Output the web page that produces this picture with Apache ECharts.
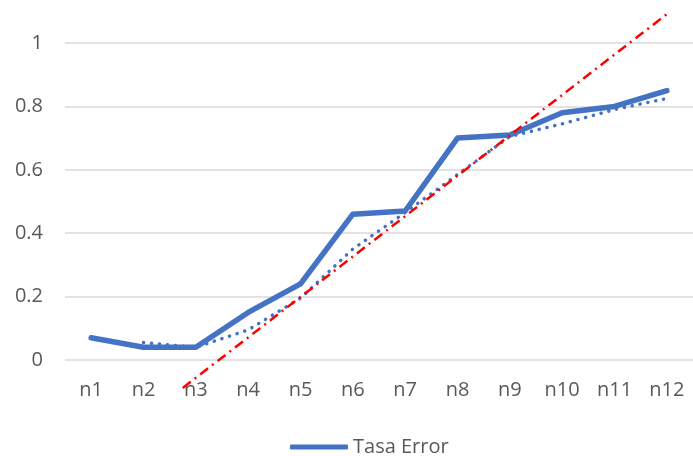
<!DOCTYPE html>
<html>
<head>
<meta charset="utf-8">
<script src="https://cdn.jsdelivr.net/npm/echarts@6/dist/echarts.min.js"></script>
<style>
  html, body { margin: 0; padding: 0; background: #fff; }
  #chart { width: 693px; height: 456px; }
</style>
</head>
<body>
<div id="chart"></div>
<script>
// Categories and series values
const categories = ['n1', 'n2', 'n3', 'n4', 'n5', 'n6', 'n7', 'n8', 'n9', 'n10', 'n11', 'n12'];
const tasaError = [0.07, 0.04, 0.04, 0.15, 0.24, 0.46, 0.47, 0.70, 0.71, 0.78, 0.80, 0.85];
// Two-period moving average trend (dotted)
const movingAvg = [null, 0.055, 0.04, 0.095, 0.195, 0.35, 0.465, 0.585, 0.705, 0.745, 0.79, 0.825];
// Linear trend (red dash-dot): position along the category axis (n1 = 1) and value
const linearTrendX = [2.75, 12];
const linearTrendY = [-0.088, 1.091];
const yTicks = [0, 0.2, 0.4, 0.6, 0.8, 1];

const FONT = '"Open Sans", "Liberation Sans", sans-serif';
const BLUE = '#4472C4';

const chart = echarts.init(document.getElementById('chart'), null, { renderer: 'canvas' });
chart.setOption({
  animation: false,
  backgroundColor: '#ffffff',
  grid: { left: 65, right: -7, top: 43, bottom: 96, containLabel: false },
  legend: {
    data: ['Tasa Error'],
    left: 285,
    top: 432,
    itemWidth: 58,
    itemHeight: 5,
    itemGap: 10,
    icon: 'roundRect',
    textStyle: { fontFamily: FONT, fontSize: 20, color: '#595959' }
  },
  xAxis: [
    {
      type: 'category',
      data: categories,
      boundaryGap: true,
      axisLine: { show: false },
      axisTick: { show: false },
      axisLabel: { fontFamily: FONT, fontSize: 20, color: '#595959', margin: 20 }
    },
    {
      type: 'value',
      min: 0.5,
      max: 12.5,
      show: false
    }
  ],
  yAxis: {
    type: 'value',
    min: yTicks[0],
    max: yTicks[yTicks.length - 1],
    interval: 0.2,
    axisLine: { show: false },
    axisTick: { show: false },
    axisLabel: { fontFamily: FONT, fontSize: 20, color: '#595959', margin: 22 },
    splitLine: { lineStyle: { color: '#d9d9d9', width: 1.5 } }
  },
  series: [
    {
      name: 'Tasa Error',
      type: 'line',
      data: tasaError,
      symbol: 'none',
      z: 3,
      itemStyle: { color: BLUE },
      lineStyle: { color: BLUE, width: 5.5, cap: 'round', join: 'round' }
    },
    {
      name: 'trend-ma',
      type: 'line',
      data: movingAvg,
      symbol: 'none',
      z: 4,
      lineStyle: { color: BLUE, width: 3.5, type: [0.1, 7.9], cap: 'round' }
    },
    {
      name: 'trend-linear',
      type: 'line',
      xAxisIndex: 1,
      clip: false,
      data: linearTrendX.map((x, i) => [x, linearTrendY[i]]),
      symbol: 'none',
      z: 5,
      lineStyle: { color: '#FF0000', width: 2.5, type: [10, 5, 2, 5] }
    }
  ]
});
</script>
</body>
</html>
